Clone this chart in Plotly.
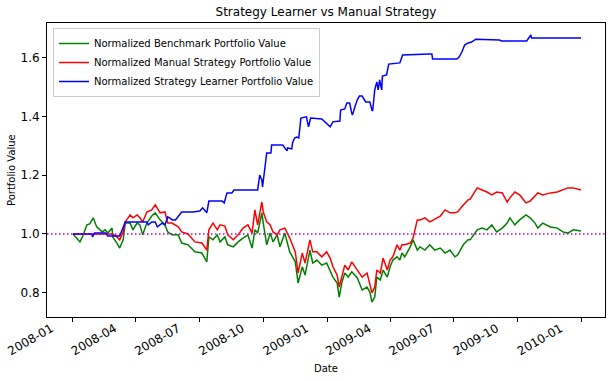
import plotly.graph_objects as go

# ---- data ----
dates_bm = [
    "2008-01-02", "2008-01-06", "2008-01-12", "2008-01-16", "2008-01-22", "2008-01-26", "2008-01-31", "2008-02-05", "2008-02-13", "2008-02-17",
    "2008-02-21", "2008-02-27", "2008-02-28", "2008-03-05", "2008-03-09", "2008-03-14", "2008-03-17", "2008-03-24", "2008-03-28", "2008-04-03",
    "2008-04-07", "2008-04-11", "2008-04-17", "2008-04-24", "2008-04-29", "2008-05-06", "2008-05-13", "2008-05-17", "2008-05-23", "2008-06-01",
    "2008-06-06", "2008-06-15", "2008-06-25", "2008-07-05", "2008-07-12", "2008-07-15", "2008-07-21", "2008-07-27", "2008-07-31", "2008-08-07",
    "2008-08-11", "2008-08-19", "2008-08-26", "2008-09-02", "2008-09-09", "2008-09-15", "2008-09-19", "2008-09-23", "2008-09-29", "2008-10-01",
    "2008-10-06", "2008-10-11", "2008-10-15", "2008-10-21", "2008-10-25", "2008-11-01", "2008-11-08", "2008-11-16", "2008-11-20", "2008-11-26",
    "2008-11-30", "2008-12-07", "2008-12-11", "2008-12-17", "2008-12-24", "2008-12-31", "2009-01-05", "2009-01-09", "2009-01-15", "2009-01-18",
    "2009-01-22", "2009-01-26", "2009-01-31", "2009-02-05", "2009-02-13", "2009-02-20", "2009-02-27", "2009-03-03", "2009-03-06", "2009-03-10",
    "2009-03-13", "2009-03-18", "2009-03-22", "2009-03-28", "2009-04-01", "2009-04-05", "2009-04-11", "2009-04-15", "2009-04-18", "2009-04-22",
    "2009-04-30", "2009-05-04", "2009-05-10", "2009-05-14", "2009-05-21", "2009-05-28", "2009-06-04", "2009-06-12", "2009-06-19", "2009-06-26",
    "2009-07-03", "2009-07-07", "2009-07-15", "2009-07-22", "2009-07-25", "2009-08-04", "2009-08-11", "2009-08-18", "2009-08-25", "2009-09-01",
    "2009-09-09", "2009-09-16", "2009-09-20", "2009-09-27", "2009-10-04", "2009-10-13", "2009-10-19", "2009-10-26", "2009-10-30", "2009-11-06",
    "2009-11-17", "2009-11-27", "2009-12-05", "2009-12-12", "2009-12-20", "2009-12-31",
]

benchmark = [
    1.000, 0.990, 0.973, 0.993, 1.031, 1.034, 1.055, 1.024, 1.007, 1.014,
    1.003, 1.020, 0.990, 0.969, 0.952, 0.980, 1.037, 1.037, 1.014, 1.037,
    1.031, 0.997, 1.037, 1.061, 1.072, 1.048, 1.031, 1.007, 0.997, 0.997,
    0.969, 0.963, 0.939, 0.935, 0.905, 0.990, 0.980, 0.997, 0.973, 0.990,
    0.963, 0.956, 0.973, 0.986, 0.997, 0.952, 1.014, 1.003, 1.072, 1.037,
    0.963, 1.003, 0.973, 0.997, 0.956, 1.003, 0.939, 0.905, 0.833, 0.888,
    0.860, 0.945, 0.901, 0.911, 0.894, 0.901, 0.877, 0.853, 0.833, 0.785,
    0.836, 0.867, 0.853, 0.871, 0.850, 0.809, 0.819, 0.802, 0.768, 0.785,
    0.853, 0.843, 0.877, 0.853, 0.888, 0.911, 0.922, 0.911, 0.935, 0.922,
    0.956, 0.980, 0.945, 0.956, 0.945, 0.963, 0.945, 0.952, 0.935, 0.945,
    0.922, 0.928, 0.963, 0.980, 0.980, 1.014, 1.020, 1.014, 1.031, 1.007,
    1.020, 1.037, 1.055, 1.031, 1.048, 1.065, 1.055, 1.037, 1.020, 1.037,
    1.024, 1.020, 1.007, 1.003, 1.014, 1.010,
]

manual = [
    1.000, 1.000, 1.000, 1.000, 1.000, 1.000, 1.000, 1.000, 1.000, 1.000,
    1.000, 1.000, 1.000, 0.990, 0.980, 1.007, 1.041, 1.065, 1.055, 1.065,
    1.055, 1.041, 1.075, 1.082, 1.099, 1.072, 1.075, 1.037, 1.037, 1.024,
    1.007, 1.000, 0.973, 0.969, 0.945, 1.014, 1.037, 1.014, 1.031, 1.027,
    0.997, 0.980, 0.997, 1.020, 1.031, 1.003, 1.082, 1.031, 1.109, 1.075,
    1.041, 1.031, 1.007, 0.997, 1.014, 1.020, 0.986, 0.939, 0.867, 0.935,
    0.901, 0.980, 0.939, 0.939, 0.922, 0.939, 0.918, 0.888, 0.860, 0.819,
    0.860, 0.894, 0.877, 0.905, 0.877, 0.853, 0.867, 0.833, 0.799, 0.819,
    0.877, 0.867, 0.918, 0.877, 0.911, 0.922, 0.963, 0.945, 0.963, 0.963,
    0.969, 0.986, 1.048, 1.048, 1.055, 1.041, 1.051, 1.061, 1.082, 1.072,
    1.072, 1.075, 1.099, 1.116, 1.119, 1.157, 1.150, 1.143, 1.133, 1.143,
    1.140, 1.109, 1.123, 1.143, 1.133, 1.106, 1.112, 1.129, 1.140, 1.133,
    1.140, 1.143, 1.150, 1.157, 1.157, 1.150,
]

dates_sl = [
    "2008-01-02", "2008-01-29", "2008-01-30", "2008-02-02", "2008-02-18", "2008-02-21", "2008-03-09", "2008-03-12", "2008-03-17", "2008-04-17",
    "2008-04-19", "2008-04-24", "2008-04-29", "2008-05-02", "2008-05-09", "2008-05-13", "2008-05-17", "2008-05-24", "2008-05-28", "2008-06-06",
    "2008-06-22", "2008-07-02", "2008-07-06", "2008-07-12", "2008-07-15", "2008-08-03", "2008-08-06", "2008-08-10", "2008-08-17", "2008-08-20",
    "2008-09-23", "2008-09-26", "2008-09-29", "2008-09-30", "2008-10-03", "2008-10-06", "2008-10-12", "2008-10-13", "2008-10-29", "2008-11-04",
    "2008-11-05", "2008-11-11", "2008-11-12", "2008-11-15", "2008-11-18", "2008-11-21", "2008-11-24", "2008-12-02", "2008-12-05", "2008-12-08",
    "2008-12-24", "2008-12-30", "2009-01-05", "2009-01-09", "2009-01-19", "2009-01-20", "2009-01-26", "2009-01-29", "2009-02-02", "2009-02-05",
    "2009-02-06", "2009-02-09", "2009-02-13", "2009-02-16", "2009-02-20", "2009-02-25", "2009-03-03", "2009-03-06", "2009-03-07", "2009-03-10",
    "2009-03-13", "2009-03-15", "2009-03-17", "2009-03-20", "2009-03-21", "2009-03-27", "2009-03-30", "2009-04-15", "2009-04-18", "2009-04-19",
    "2009-05-28", "2009-05-31", "2009-06-01", "2009-07-06", "2009-07-09", "2009-07-13", "2009-07-17", "2009-07-22", "2009-07-27", "2009-08-02",
    "2009-09-05", "2009-09-08", "2009-10-14", "2009-10-17", "2009-10-20", "2009-10-21", "2009-12-31",
]

learner = [
    1.000, 1.000, 0.990, 1.003, 1.003, 0.993, 0.993, 1.014, 1.041, 1.041,
    1.031, 1.041, 1.041, 1.024, 1.037, 1.031, 1.058, 1.048, 1.048, 1.075,
    1.075, 1.078, 1.089, 1.072, 1.112, 1.112, 1.106, 1.140, 1.140, 1.150,
    1.150, 1.201, 1.184, 1.160, 1.225, 1.276, 1.276, 1.303, 1.303, 1.283,
    1.293, 1.290, 1.310, 1.327, 1.330, 1.327, 1.395, 1.399, 1.365, 1.395,
    1.392, 1.378, 1.365, 1.382, 1.385, 1.422, 1.426, 1.446, 1.446, 1.412,
    1.405, 1.429, 1.457, 1.470, 1.470, 1.450, 1.450, 1.422, 1.419, 1.491,
    1.518, 1.491, 1.525, 1.491, 1.538, 1.542, 1.579, 1.583, 1.600, 1.610,
    1.613, 1.613, 1.596, 1.596, 1.603, 1.620, 1.644, 1.651, 1.654, 1.664,
    1.661, 1.658, 1.658, 1.668, 1.678, 1.668, 1.668,
]

x_tickvals = ["2008-01-01", "2008-04-01", "2008-07-01", "2008-10-01", "2009-01-01",
              "2009-04-01", "2009-07-01", "2009-10-01", "2010-01-01"]
x_ticktext = ["2008-01", "2008-04", "2008-07", "2008-10", "2009-01",
              "2009-04", "2009-07", "2009-10", "2010-01"]
y_tickvals = [0.8, 1.0, 1.2, 1.4, 1.6]
y_ticktext = ["0.8", "1.0", "1.2", "1.4", "1.6"]

FONT = "DejaVu Sans"

fig = go.Figure()
fig.add_trace(go.Scatter(x=dates_bm, y=benchmark, mode="lines",
                         name="Normalized Benchmark Portfolio Value",
                         line=dict(color="#008000", width=1.5)))
fig.add_trace(go.Scatter(x=dates_bm, y=manual, mode="lines",
                         name="Normalized Manual Strategy Portfolio Value",
                         line=dict(color="#ff0000", width=1.5)))
fig.add_trace(go.Scatter(x=dates_sl, y=learner, mode="lines",
                         name="Normalized Strategy Learner Portfolio Value",
                         line=dict(color="#0000ff", width=1.5)))

fig.add_shape(type="line", xref="paper", x0=0, x1=1, yref="y", y0=1.0, y1=1.0,
              line=dict(color="#bf00bf", width=1.5, dash="1.5px,2.5px"), layer="above")

axis_common = dict(showline=True, linecolor="black", linewidth=1, mirror=True,
                   ticks="outside", ticklen=4, tickwidth=1, tickcolor="black",
                   showgrid=False, zeroline=False, automargin=False,
                   tickfont=dict(family=FONT, size=12, color="black"))

fig.update_layout(
    width=612, height=381,
    margin=dict(l=47, r=7, t=23, b=64),
    paper_bgcolor="white", plot_bgcolor="white",
    font=dict(family=FONT, size=12, color="black"),
    title=dict(text="Strategy Learner vs Manual Strategy", x=0.5, xref="paper",
               xanchor="center", y=1 - 12 / 381, yref="container", yanchor="middle",
               font=dict(family=FONT, size=12, color="black")),
    xaxis=dict(range=["2007-11-25 17:00", "2010-02-03 10:00"], type="date",
               tickvals=x_tickvals, ticktext=x_ticktext, tickangle=-30,
               ticklabelshift=-21, ticklabelstandoff=-5, **axis_common),
    yaxis=dict(range=[0.717, 1.719], tickvals=y_tickvals, ticktext=y_ticktext, **axis_common),
    legend=dict(x=(53 - 47) / 558, y=(317 - 28) / 294, xanchor="left", yanchor="top",
                bgcolor="rgba(255,255,255,0.8)", bordercolor="#cccccc", borderwidth=1,
                font=dict(family=FONT, size=10, color="black"), tracegroupgap=0),
    showlegend=True,
    hovermode=False,
    annotations=[
        dict(text="Date", xref="paper", yref="paper", x=0.5, y=(317 - 368) / 294,
             xanchor="center", yanchor="middle", showarrow=False,
             font=dict(family=FONT, size=10, color="black")),
        dict(text="Portfolio Value", xref="paper", yref="paper", x=(11 - 47) / 558, y=0.5,
             xanchor="center", yanchor="middle", textangle=-90, showarrow=False,
             font=dict(family=FONT, size=10, color="black")),
    ],
)

fig.write_html("out.html", config={"displayModeBar": False},
               post_script="document.body.style.margin='0';document.body.style.overflow='hidden';")
